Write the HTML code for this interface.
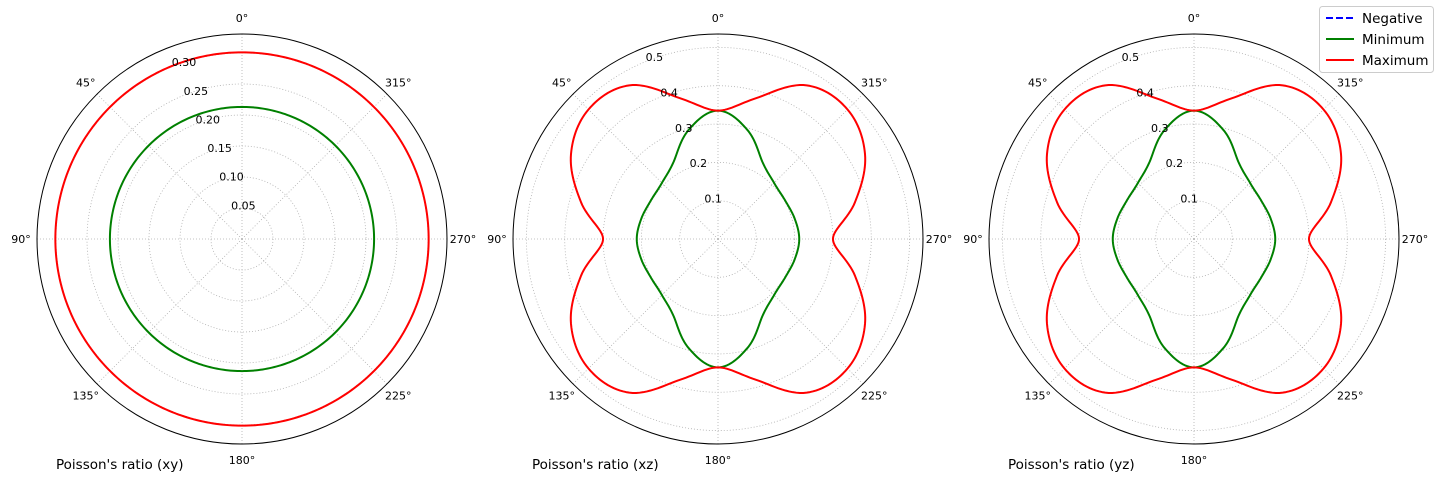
<!DOCTYPE html>
<html><head><meta charset="utf-8"><style>
html,body{margin:0;padding:0;background:#fff;}
svg{display:block;font-family:"DejaVu Sans","Liberation Sans",sans-serif;}
</style></head><body>
<svg id="fig" width="1440" height="480" viewBox="0 0 1440 480">
<g id="plots"></g>
<g>
<rect x="1319.5" y="6.5" width="114" height="66" rx="3" fill="#fff" stroke="#ccc"/>
<g>
<line x1="1326" y1="18" x2="1354" y2="18" stroke="#0000ff" stroke-width="2" stroke-dasharray="7,3"/>
<text x="1362" y="23" font-size="13.5">Negative</text></g>
<g>
<line x1="1326" y1="39" x2="1354" y2="39" stroke="#008000" stroke-width="2"/>
<text x="1362" y="44" font-size="13.5">Minimum</text></g>
<g>
<line x1="1326" y1="60" x2="1354" y2="60" stroke="#ff0000" stroke-width="2"/>
<text x="1362" y="65" font-size="13.5">Maximum</text></g>
</g>
</svg>
<script>
// angles (deg) for the data samples
const angles = [0,15,30,45,60,75,90,105,120,135,150,165,180,195,210,225,240,255,270,285,300,315,330,345];
const xyMin = [0.213,0.213,0.213,0.213,0.213,0.213,0.213,0.213,0.213,0.213,0.213,0.213,0.213,0.213,0.213,0.213,0.213,0.213,0.213,0.213,0.213,0.213,0.213,0.213];
const xyMax = [0.301,0.301,0.301,0.301,0.301,0.301,0.301,0.301,0.301,0.301,0.301,0.301,0.301,0.301,0.301,0.301,0.301,0.301,0.301,0.301,0.301,0.301,0.301,0.301];
const xzMin = [0.335,0.295,0.232,0.207,0.202,0.207,0.212,0.207,0.202,0.207,0.232,0.295,0.335,0.295,0.232,0.207,0.202,0.207,0.212,0.207,0.202,0.207,0.232,0.295];
const xzMax = [0.335,0.38,0.463,0.478,0.443,0.37,0.30,0.37,0.443,0.478,0.463,0.38,0.335,0.38,0.463,0.478,0.443,0.37,0.30,0.37,0.443,0.478,0.463,0.38];
const yzMin = [0.335,0.295,0.232,0.207,0.202,0.207,0.212,0.207,0.202,0.207,0.232,0.295,0.335,0.295,0.232,0.207,0.202,0.207,0.212,0.207,0.202,0.207,0.232,0.295];
const yzMax = [0.335,0.38,0.463,0.478,0.443,0.37,0.30,0.37,0.443,0.478,0.463,0.38,0.335,0.38,0.463,0.478,0.443,0.37,0.30,0.37,0.443,0.478,0.463,0.38];
const xyTicks = [0.05,0.10,0.15,0.20,0.25,0.30];
const xyTickLabels = ["0.05","0.10","0.15","0.20","0.25","0.30"];
const xzTicks = [0.1,0.2,0.3,0.4,0.5];
const xzTickLabels = ["0.1","0.2","0.3","0.4","0.5"];
const angleTickLabels = ["0°","45°","90°","135°","180°","225°","270°","315°"];
const titles = ["Poisson's ratio (xy)","Poisson's ratio (xz)","Poisson's ratio (yz)"];

const NS="http://www.w3.org/2000/svg";
const root=document.getElementById('plots');
const R=205;
function mk(tag,attrs,parent){const e=document.createElementNS(NS,tag);for(const k in attrs)e.setAttribute(k,attrs[k]);parent.appendChild(e);return e;}

function drawPlot(idx,cx,cy,rmax,ticks,tickLabels,minV,maxV,key){
  const g=mk('g',{},root);
  
  
  const rs=v=>v/rmax*R;
  const pt=(deg,v)=>{const a=deg*Math.PI/180;return [cx-rs(v)*Math.sin(a),cy-rs(v)*Math.cos(a)];};
  for(let i=0;i<ticks.length;i++){
    const c=mk('circle',{cx:cx,cy:cy,r:rs(ticks[i]),fill:'none',stroke:'#b0b0b0','stroke-width':0.8,'stroke-dasharray':'1,2'},g);
    
    
  }
  for(let k=0;k<8;k++){
    const a=k*45*Math.PI/180;
    const l=mk('line',{x1:cx,y1:cy,x2:cx-R*Math.sin(a),y2:cy-R*Math.cos(a),stroke:'#b0b0b0','stroke-width':0.8,'stroke-dasharray':'1,2'},g);
    
    
  }
  const o=mk('circle',{cx:cx,cy:cy,r:R,fill:'none',stroke:'#000','stroke-width':1},g);
  
  
  for(let k=0;k<8;k++){
    const a=k*45*Math.PI/180;
    const t=mk('text',{x:cx-221*Math.sin(a),y:cy-221*Math.cos(a)+4,'font-size':11,'text-anchor':'middle'},g);
    t.textContent=angleTickLabels[k];
    
    
  }
  function curve(vals,color,name){
    const n=vals.length,pts=[];
    for(let i=0;i<n;i++){
      const p0=vals[(i-1+n)%n],p1=vals[i],p2=vals[(i+1)%n],p3=vals[(i+2)%n];
      for(let s=0;s<15;s++){
        const t=s/15;
        const v=0.5*((2*p1)+(-p0+p2)*t+(2*p0-5*p1+4*p2-p3)*t*t+(-p0+3*p1-3*p2+p3)*t*t*t);
        const deg=angles[i]+t*(360/n);
        pts.push(pt(deg,v));
      }
    }
    const d='M'+pts.map(p=>p[0].toFixed(2)+','+p[1].toFixed(2)).join('L')+'Z';
    const path=mk('path',{d:d,fill:'none',stroke:color,'stroke-width':2,'stroke-linejoin':'round'},g);
    
    
  }
  curve(minV,'#008000','minimum-curve-'+key);
  curve(maxV,'#ff0000','maximum-curve-'+key);
  for(let i=0;i<ticks.length;i++){
    const p=pt(22.5,ticks[i]);
    const t=mk('text',{x:p[0]+1,y:p[1]-1,'font-size':11},g);
    t.textContent=tickLabels[i];
    
    
  }
  const ti=mk('text',{x:cx-186,y:469,'font-size':13.5},g);
  ti.textContent=titles[idx];
  
  
}
drawPlot(0,242,239,0.3306,xyTicks,xyTickLabels,xyMin,xyMax,'xy');
drawPlot(1,718,239,0.535,xzTicks,xzTickLabels,xzMin,xzMax,'xz');
drawPlot(2,1194,239,0.535,xzTicks,xzTickLabels,yzMin,yzMax,'yz');
</script>
</body></html>
